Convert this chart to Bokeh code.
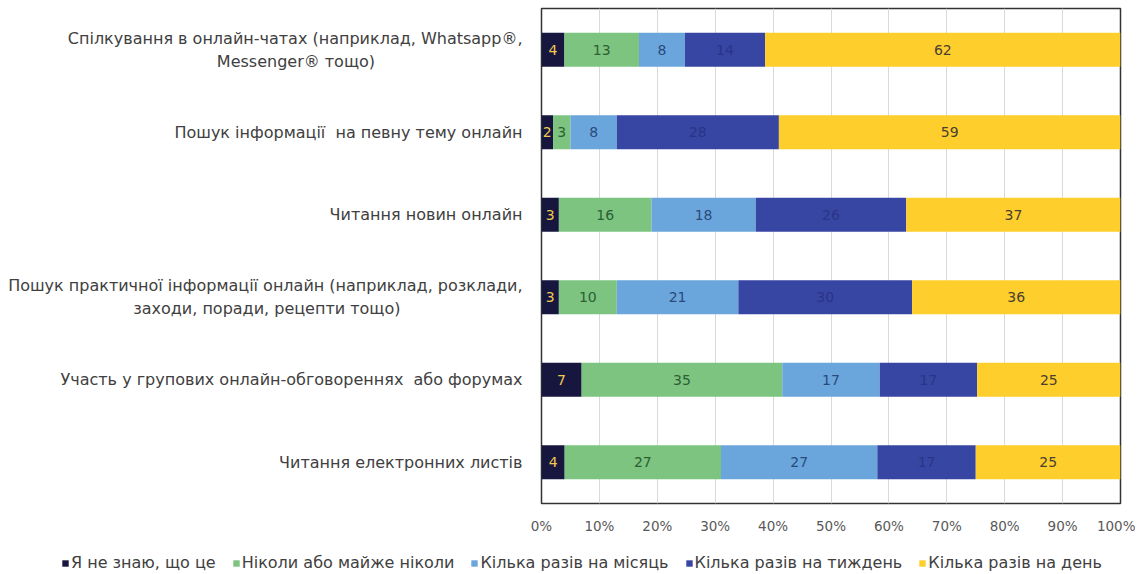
from bokeh.plotting import figure
from bokeh.models import ColumnDataSource, Legend, LegendItem, FixedTicker
from bokeh.core.properties import value
from bokeh.embed import file_html
from bokeh.resources import INLINE

categories = [
    "Спілкування в онлайн-чатах (наприклад, Whatsapp®,\nMessenger® тощо)",
    "Пошук інформації  на певну тему онлайн",
    "Читання новин онлайн",
    "Пошук практичної інформації онлайн (наприклад, розклади,\nзаходи, поради, рецепти тощо)",
    "Участь у групових онлайн-обговореннях  або форумах",
    "Читання електронних листів",
]
series_names = [
    "Я не знаю, що це",
    "Ніколи або майже ніколи",
    "Кілька разів на місяць",
    "Кілька разів на тиждень",
    "Кілька разів на день",
]
dont_know = [4, 2, 3, 3, 7, 4]
never = [13, 3, 16, 10, 35, 27]
monthly = [8, 8, 18, 21, 17, 27]
weekly = [14, 28, 26, 30, 17, 17]
daily = [62, 59, 37, 36, 25, 25]
series_values = [dont_know, never, monthly, weekly, daily]
x_ticks = list(range(0, 101, 10))

colors = ["#16163f", "#7cc47f", "#6aa6dc", "#3846a3", "#fece2c"]
label_colors = ["#f0c850", "#2d5e34", "#2a4a7c", "#2a3488", "#4a4030"]

FONT = "DejaVu Sans"
NB = "\u00a0"

n = len(categories)
ypos = [n - 1 - i for i in range(n)]  # first category on top

p = figure(
    width=1135, height=536,
    y_range=(-0.5, n - 0.5), x_range=(0, 100),
    output_backend="svg", toolbar_location=None,
    min_border_left=541, min_border_right=15, min_border_top=8, min_border_bottom=32,
)
p.outline_line_color = "#333333"
p.outline_line_width = 1.5

totals = [sum(v[i] for v in series_values) for i in range(n)]
left = [0.0] * n
for name, vals, col, lcol in zip(series_names, series_values, colors, label_colors):
    pct = [v / t * 100 for v, t in zip(vals, totals)]
    right = [l + w for l, w in zip(left, pct)]
    src = ColumnDataSource(dict(
        y=ypos, left=list(left), right=right,
        mid=[(l + r) / 2 for l, r in zip(left, right)],
        txt=[str(v) for v in vals],
    ))
    p.hbar(y="y", left="left", right="right", height=0.41, source=src,
           fill_color=col, line_color=None)
    p.text(x="mid", y="y", text="txt", source=src, text_align="center",
           text_baseline="middle", text_font_size="14px", text_color=lcol,
           text_font=value(FONT))
    left = right

p.xaxis.ticker = FixedTicker(ticks=x_ticks)
p.xaxis.major_label_overrides = {t: f"{t}%" for t in x_ticks}
p.xaxis.major_label_text_font = FONT
p.xaxis.major_label_text_font_size = "13.5px"
p.xaxis.major_label_text_color = "#595959"
p.xaxis.axis_line_color = None
p.xaxis.major_tick_line_color = None
p.xaxis.minor_tick_line_color = None
p.xaxis.major_label_standoff = 8

# category labels; the second line of two-line labels is centred under the first
overrides = {}
for yp, c in zip(ypos, categories):
    c = c.replace("  ", " " + NB)
    if "\n" in c:
        first, second = c.split("\n")
        pad = max(0, int(round((len(first) - len(second)) * 0.5 * 1.75)))
        overrides[yp] = first + "\n" + second + NB * pad
    else:
        overrides[yp] = c
p.yaxis.ticker = FixedTicker(ticks=ypos)
p.yaxis.major_label_overrides = overrides
p.yaxis.axis_line_color = None
p.yaxis.major_tick_line_color = None
p.yaxis.minor_tick_line_color = None
p.yaxis.major_label_text_font = FONT
p.yaxis.major_label_text_font_size = "16px"
p.yaxis.major_label_text_color = "#404040"
p.yaxis.major_label_standoff = 13

p.xgrid.grid_line_color = "#d9d9d9"
p.xgrid.ticker = FixedTicker(ticks=x_ticks)
p.ygrid.grid_line_color = None

# legend strip below the chart, as its own root so its frame spans the full width
p2 = figure(width=1135, height=36, x_range=(0, 1), y_range=(0, 1),
            output_backend="svg", toolbar_location=None, min_border=0)
p2.axis.visible = False
p2.grid.visible = False
p2.outline_line_color = None
swatches = [p2.hbar(y=[-5], left=[0], right=[1], height=0.5, fill_color=c, line_color=None)
            for c in colors]
legend = Legend(
    items=[LegendItem(label=nm, renderers=[r]) for nm, r in zip(series_names, swatches)],
    orientation="horizontal", location=(61, 0),
    glyph_width=8, glyph_height=8, label_standoff=2, spacing=16,
    padding=2, margin=0, border_line_color=None, background_fill_alpha=0,
    label_text_font=FONT, label_text_font_size="16px", label_text_color="#404040",
)
p2.add_layout(legend, "center")

open("out.html", "w").write(file_html([p, p2], INLINE))
